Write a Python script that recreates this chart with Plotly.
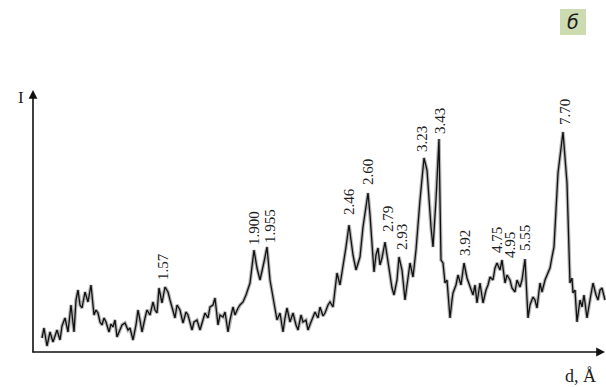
import plotly.graph_objects as go

# Diffraction scan: position along the scan and measured intensity (arb. units)
pos = [42, 44, 47, 50, 53, 57, 60, 62, 65, 68, 71, 74, 76, 78, 80, 82, 85, 88, 91, 94,
       96, 98, 100, 102, 104, 106, 109, 111, 113, 115, 117, 120, 122, 125, 128, 130, 133, 136, 138, 140,
       142, 145, 147, 150, 153, 155, 157, 159, 162, 165, 168, 170, 172, 175, 177, 180, 183, 186, 188, 192,
       194, 197, 200, 203, 205, 208, 210, 213, 215, 218, 220, 223, 225, 228, 230, 233, 235, 238, 240, 243,
       246, 250, 254, 257, 260, 264, 267, 270, 273, 277, 280, 283, 285, 287, 290, 293, 296, 298, 301, 303,
       306, 308, 311, 315, 318, 320, 323, 325, 328, 330, 333, 335, 337, 340, 342, 344, 346, 349, 351, 353,
       356, 358, 360, 363, 365, 368, 370, 371, 374, 376, 378, 380, 382, 385, 387, 388, 390, 392, 394, 397,
       399, 402, 405, 407, 410, 413, 416, 420, 424, 427, 429, 431, 433, 436, 439, 441, 443, 445, 447, 450,
       452, 453, 456, 458, 461, 464, 467, 470, 473, 475, 477, 480, 483, 486, 488, 490, 493, 495, 497, 500,
       502, 505, 507, 510, 512, 515, 517, 520, 522, 525, 528, 530, 533, 535, 537, 540, 542, 545, 547, 550,
       552, 554, 558, 563, 567, 570, 572, 573, 575, 577, 580, 582, 584, 587, 590, 593, 596, 598, 600, 602,
       605]
intensity = [14, 24, 6, 20, 10, 22, 12, 26, 34, 20, 47, 20, 52, 62, 47, 44, 60, 50, 67, 37,
             42, 39, 30, 27, 34, 30, 20, 28, 25, 32, 15, 22, 27, 29, 22, 24, 12, 27, 42, 32,
             20, 34, 42, 37, 50, 42, 39, 64, 49, 65, 60, 52, 45, 34, 47, 42, 29, 40, 37, 22,
             30, 32, 22, 34, 39, 34, 45, 47, 54, 27, 37, 35, 40, 20, 32, 45, 37, 44, 47, 50,
             57, 69, 102, 84, 72, 90, 105, 72, 54, 32, 39, 20, 34, 44, 30, 39, 27, 22, 37, 30,
             32, 22, 30, 40, 34, 45, 36, 39, 47, 50, 45, 62, 79, 67, 79, 90, 105, 127, 112, 97,
             82, 90, 95, 125, 137, 159, 137, 122, 80, 97, 104, 87, 94, 110, 97, 92, 77, 64, 57, 72,
             95, 82, 52, 67, 89, 75, 102, 152, 194, 182, 147, 125, 105, 152, 213, 92, 89, 69, 72, 34,
             52, 59, 67, 77, 67, 89, 74, 65, 57, 67, 49, 69, 49, 62, 67, 75, 72, 84, 89, 82,
             92, 69, 77, 72, 64, 60, 72, 65, 72, 93, 34, 47, 55, 52, 44, 69, 60, 72, 77, 84,
             95, 105, 179, 220, 169, 69, 74, 59, 62, 30, 52, 45, 57, 34, 52, 69, 57, 52, 62, 64,
             52]

# Peak d-spacings (Å) and where their labels sit
peak_labels = ["1.57", "1.900", "1.955", "2.46", "2.60", "2.79", "2.93", "3.23",
               "3.43", "3.92", "4.75", "4.95", "5.55", "7.70"]
label_pos = [163, 254, 270, 349, 368, 388, 402, 422, 440, 465, 497, 510, 525, 565]
label_int = [85, 124, 126, 150, 180, 133, 115, 213, 231, 109, 112, 107, 114, 240]

fig = go.Figure()
# soft grey halo under the trace
fig.add_trace(go.Scatter(x=pos, y=intensity, mode="lines",
                         line=dict(color="rgba(120,120,120,0.55)", width=3.6),
                         hoverinfo="skip", showlegend=False))
fig.add_trace(go.Scatter(x=pos, y=intensity, mode="lines",
                         line=dict(color="#111111", width=1.3),
                         showlegend=False))

serif = "Liberation Serif"
for t, x, y in zip(peak_labels, label_pos, label_int):
    fig.add_annotation(x=x, y=y, text=t, showarrow=False, textangle=-90,
                       xanchor="center", yanchor="middle",
                       font=dict(family=serif, size=15, color="#222222"))

# axes with arrow heads
fig.add_annotation(x=33, y=262, ax=33, ay=-2, xref="x", yref="y", axref="x", ayref="y",
                   text="", showarrow=True, arrowhead=2, arrowsize=1.1, arrowwidth=1.6,
                   arrowcolor="#111111")
fig.add_annotation(x=605, y=0, ax=31, ay=0, xref="x", yref="y", axref="x", ayref="y",
                   text="", showarrow=True, arrowhead=2, arrowsize=1.1, arrowwidth=1.6,
                   arrowcolor="#111111")

fig.add_annotation(x=21, y=255, text="I", showarrow=False, xanchor="center", yanchor="middle",
                   font=dict(family=serif, size=17, color="#222222"))
fig.add_annotation(x=580, y=-24, text="d, Å", showarrow=False, xanchor="center", yanchor="middle",
                   font=dict(family=serif, size=18, color="#222222"))

# panel letter
fig.add_shape(type="rect", xref="x", yref="y", x0=560, x1=586, y0=317, y1=343,
              fillcolor="#cddbb1", line=dict(width=0), layer="below")
fig.add_annotation(x=573, y=330, text="<i>б</i>", showarrow=False,
                   xanchor="center", yanchor="middle",
                   font=dict(family="DejaVu Sans", size=19, color="#1a1a1a"))

fig.update_layout(width=606, height=387, margin=dict(l=0, r=0, t=0, b=0),
                  paper_bgcolor="white", plot_bgcolor="white")
fig.update_xaxes(range=[0, 606], visible=False, fixedrange=True)
fig.update_yaxes(range=[-35, 352], visible=False, fixedrange=True)

fig.write_html("out.html")
